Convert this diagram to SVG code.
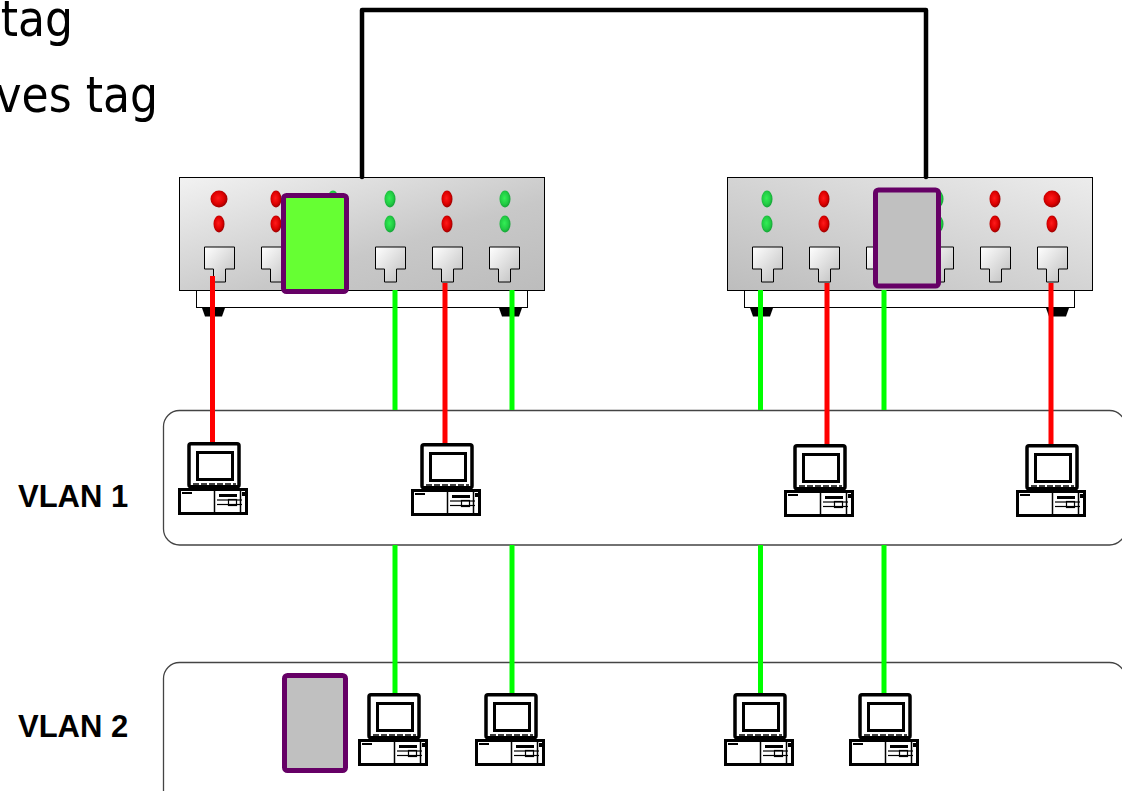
<svg xmlns="http://www.w3.org/2000/svg" xmlns:xlink="http://www.w3.org/1999/xlink" width="1122" height="791" viewBox="0 0 1122 791">
  <style>
    .caption { font-family: "DejaVu Sans Condensed", "DejaVu Sans", Verdana, sans-serif; font-stretch: condensed; font-size: 49px; fill: #000; }
    .vlan-label { font-family: "Liberation Sans", Arial, sans-serif; font-size: 31px; font-weight: bold; fill: #000; }
    .vlan-box { fill: #fff; stroke: #444; stroke-width: 1.3; }
    .body-edge { stroke: #000; stroke-width: 1; }
    .plate { fill: #fff; stroke: #000; stroke-width: 1; }
    .foot { fill: #000; }
    .trunk { fill: none; stroke: #000; stroke-width: 4.5; stroke-linecap: round; stroke-linejoin: round; }
    .red { fill: none; stroke: #ff0000; stroke-width: 5; }
    .green { fill: none; stroke: #00ff00; stroke-width: 5; }
    .tag-green { fill: #66ff33; stroke: #660066; stroke-width: 5; }
    .tag-gray { fill: #c0c0c0; stroke: #660066; stroke-width: 5; }
  </style>
  <defs>
    <linearGradient id="bodyA" x1="0" y1="0" x2="1" y2="1">
      <stop offset="0" stop-color="#f2f2f2"/>
      <stop offset="0.6" stop-color="#c8c8c8"/>
      <stop offset="1" stop-color="#bcbcbc"/>
    </linearGradient>
    <linearGradient id="bodyB" x1="0" y1="1" x2="1" y2="0">
      <stop offset="0" stop-color="#bdbdbd"/>
      <stop offset="0.5" stop-color="#d4d4d4"/>
      <stop offset="1" stop-color="#ececec"/>
    </linearGradient>
    <linearGradient id="portFill" x1="0" y1="0" x2="1" y2="1">
      <stop offset="0" stop-color="#ffffff"/>
      <stop offset="1" stop-color="#bdbdbd"/>
    </linearGradient>
    <radialGradient id="ledRed" cx="0.45" cy="0.45" r="0.6">
      <stop offset="0" stop-color="#ff1a1a"/>
      <stop offset="0.6" stop-color="#dd0000"/>
      <stop offset="1" stop-color="#8a0000"/>
    </radialGradient>
    <radialGradient id="ledGreen" cx="0.45" cy="0.45" r="0.6">
      <stop offset="0" stop-color="#33ee55"/>
      <stop offset="0.6" stop-color="#22cc44"/>
      <stop offset="1" stop-color="#119933"/>
    </radialGradient>
    <!-- RJ45 socket, anchored at its top centre -->
    <path id="port" d="M-15,0 H15 V22 H6 V35 H-6 V22 H-15 Z" fill="url(#portFill)" stroke="#000" stroke-width="1"/>
    <ellipse id="ledR" cx="0" cy="0" rx="5.5" ry="8.5" fill="url(#ledRed)"/>
    <ellipse id="ledG" cx="0" cy="0" rx="5.5" ry="8.5" fill="url(#ledGreen)"/>
    <circle id="ledRbig" cx="0" cy="0" r="8.5" fill="url(#ledRed)"/>
    <!-- desktop PC: monitor on top of a system unit, origin at top-left -->
    <g id="pc">
      <rect x="11" y="1.75" width="50" height="43" rx="2" fill="#fff" stroke="#000" stroke-width="3.5"/>
      <rect x="19.5" y="10.5" width="35" height="27" fill="#fff" stroke="#000" stroke-width="3"/>
      <line x1="15" y1="42" x2="58" y2="42" stroke="#000" stroke-width="1.5" stroke-dasharray="6 2"/>
      <rect x="1.5" y="47.5" width="67" height="24" fill="#fff" stroke="#000" stroke-width="3"/>
      <rect x="4" y="50" width="10" height="2" fill="#000"/>
      <line x1="36.5" y1="47" x2="36.5" y2="72" stroke="#000" stroke-width="1.5"/>
      <rect x="41" y="52" width="18" height="3" fill="#000"/>
      <line x1="39" y1="58" x2="64" y2="58" stroke="#000" stroke-width="1.2"/>
      <line x1="39" y1="62.5" x2="64" y2="62.5" stroke="#000" stroke-width="1.2"/>
      <rect x="50.5" y="57.5" width="8" height="6" fill="none" stroke="#000" stroke-width="1.2"/>
      <line x1="62.5" y1="47" x2="62.5" y2="72" stroke="#000" stroke-width="1.5"/>
      <rect x="64" y="50" width="3" height="4" fill="#000"/>
    </g>
  </defs>

  <rect width="1122" height="791" fill="#fff"/>

  <!-- caption lines, running off the left edge -->
  <text class="caption" x="73" y="36" text-anchor="end">tag</text>
  <text class="caption" x="158" y="112" text-anchor="end">ves tag</text>

  <!-- VLAN areas -->
  <g id="vlan2">
    <rect class="vlan-box" x="163.5" y="662.5" width="962" height="200" rx="16"/>
    <text class="vlan-label" x="18" y="737">VLAN 2</text>
  </g>
  <g id="vlan1">
    <rect class="vlan-box" x="163.5" y="410.5" width="962" height="134.5" rx="16"/>
    <text class="vlan-label" x="18" y="507">VLAN 1</text>
  </g>

  <!-- left switch -->
  <g id="switch-left">
    <rect class="plate" x="196.5" y="290.5" width="331" height="17"/>
    <path class="foot" d="M202,308 H225 L222,316.5 H205 Z"/>
    <path class="foot" d="M499,308 H522 L519,316.5 H502 Z"/>
    <rect x="179.5" y="177.5" width="365" height="113" fill="url(#bodyA)" class="body-edge"/>
    <use xlink:href="#ledRbig" x="219" y="199"/>
    <use xlink:href="#ledR" x="219" y="224"/>
    <use xlink:href="#ledR" x="276" y="199"/>
    <use xlink:href="#ledR" x="276" y="224"/>
    <use xlink:href="#ledG" x="333" y="199"/>
    <use xlink:href="#ledG" x="333" y="224"/>
    <use xlink:href="#ledG" x="390" y="199"/>
    <use xlink:href="#ledG" x="390" y="224"/>
    <use xlink:href="#ledR" x="447" y="199"/>
    <use xlink:href="#ledR" x="447" y="224"/>
    <use xlink:href="#ledG" x="505" y="199"/>
    <use xlink:href="#ledG" x="505" y="224"/>
    <use xlink:href="#port" x="219.5" y="247"/>
    <use xlink:href="#port" x="276.5" y="247"/>
    <use xlink:href="#port" x="333.5" y="247"/>
    <use xlink:href="#port" x="390.5" y="247"/>
    <use xlink:href="#port" x="447.5" y="247"/>
    <use xlink:href="#port" x="504.5" y="247"/>
  </g>

  <!-- right switch -->
  <g id="switch-right">
    <rect class="plate" x="744.5" y="290.5" width="330" height="17"/>
    <path class="foot" d="M750,308 H773 L770,316.5 H753 Z"/>
    <path class="foot" d="M1046,308 H1069 L1066,316.5 H1049 Z"/>
    <rect x="727.5" y="177.5" width="365" height="113" fill="url(#bodyB)" class="body-edge"/>
    <use xlink:href="#ledG" x="767" y="199"/>
    <use xlink:href="#ledG" x="767" y="224"/>
    <use xlink:href="#ledR" x="824" y="199"/>
    <use xlink:href="#ledR" x="824" y="224"/>
    <use xlink:href="#ledG" x="881" y="199"/>
    <use xlink:href="#ledG" x="881" y="224"/>
    <use xlink:href="#ledG" x="938" y="199"/>
    <use xlink:href="#ledG" x="938" y="224"/>
    <use xlink:href="#ledR" x="995" y="199"/>
    <use xlink:href="#ledR" x="995" y="224"/>
    <use xlink:href="#ledRbig" x="1052" y="199"/>
    <use xlink:href="#ledR" x="1052" y="224"/>
    <use xlink:href="#port" x="767.5" y="247"/>
    <use xlink:href="#port" x="824.5" y="247"/>
    <use xlink:href="#port" x="881.5" y="247"/>
    <use xlink:href="#port" x="938.5" y="247"/>
    <use xlink:href="#port" x="995.5" y="247"/>
    <use xlink:href="#port" x="1052.5" y="247"/>
  </g>

  <!-- cabling -->
  <g id="connectors">
    <path class="trunk" d="M362,177 V10 H926 V177"/>
    <path class="green" d="M395,290 V410 M395,545 V693"/>
    <path class="green" d="M512,290 V410 M512,545 V693"/>
    <path class="green" d="M760.5,290 V410 M760.5,545 V693"/>
    <path class="green" d="M884,290 V410 M884,545 V693"/>
    <path class="red" d="M212.5,276 V443"/>
    <path class="red" d="M445,283 V443"/>
    <path class="red" d="M827,283 V445"/>
    <path class="red" d="M1051,283 V445"/>
  </g>

  <!-- hosts in VLAN 1 -->
  <g id="pc-v1-a"><use xlink:href="#pc" x="178" y="442"/></g>
  <g id="pc-v1-b"><use xlink:href="#pc" x="411" y="443"/></g>
  <g id="pc-v1-c"><use xlink:href="#pc" x="784" y="444"/></g>
  <g id="pc-v1-d"><use xlink:href="#pc" x="1016" y="444"/></g>

  <!-- hosts in VLAN 2 -->
  <g id="pc-v2-a"><use xlink:href="#pc" x="358" y="693"/></g>
  <g id="pc-v2-b"><use xlink:href="#pc" x="475" y="693"/></g>
  <g id="pc-v2-c"><use xlink:href="#pc" x="724" y="693"/></g>
  <g id="pc-v2-d"><use xlink:href="#pc" x="849" y="693"/></g>

  <!-- tag frames -->
  <g id="frame-green"><rect class="tag-green" x="283.5" y="195.5" width="63" height="96" rx="3"/></g>
  <g id="frame-gray-switch"><rect class="tag-gray" x="875.5" y="190" width="63" height="96" rx="3"/></g>
  <g id="frame-gray-vlan2"><rect class="tag-gray" x="284.5" y="675.5" width="61" height="95" rx="3"/></g>
</svg>
